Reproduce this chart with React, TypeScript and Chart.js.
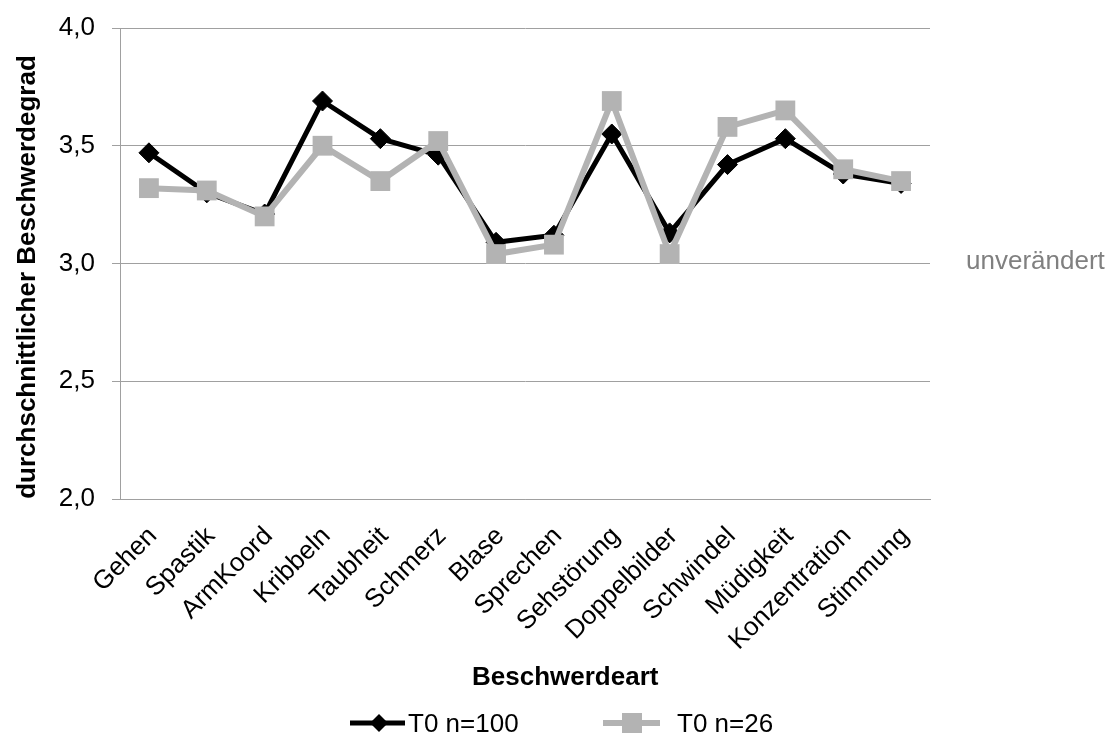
import React, { useEffect, useRef } from "react";
import { Chart, registerables } from "chart.js";

Chart.register(...registerables);

// Complaint categories on the x axis
const categories = [
  "Gehen",
  "Spastik",
  "ArmKoord",
  "Kribbeln",
  "Taubheit",
  "Schmerz",
  "Blase",
  "Sprechen",
  "Sehstörung",
  "Doppelbilder",
  "Schwindel",
  "Müdigkeit",
  "Konzentration",
  "Stimmung",
];

// Mean complaint severity per category
const seriesN100 = [3.47, 3.3, 3.21, 3.69, 3.53, 3.46, 3.09, 3.12, 3.55, 3.13, 3.42, 3.53, 3.38, 3.34];
const seriesN26 = [3.32, 3.31, 3.2, 3.5, 3.35, 3.52, 3.04, 3.08, 3.69, 3.04, 3.58, 3.65, 3.4, 3.35];

const legendLabels = ["T0 n=100", "T0 n=26"];
const yTicks = [2.0, 2.5, 3.0, 3.5, 4.0];
const yTitle = "durchschnittlicher Beschwerdegrad";
const xTitle = "Beschwerdeart";
const refLabel = "unverändert";
const refValue = 3.0;

const FONT = "'Liberation Sans', Arial, sans-serif";
const BLACK = "#000000";
const GREY = "#b3b3b3";
const GRID = "#a0a0a0";

const decorations = {
  id: "decorations",
  afterDraw(chart: any) {
    const ctx = chart.ctx as CanvasRenderingContext2D;
    const area = chart.chartArea;
    const yScale = chart.scales.y;
    ctx.save();

    // y axis title
    ctx.fillStyle = "#000";
    ctx.font = `bold 26px ${FONT}`;
    ctx.textAlign = "center";
    ctx.textBaseline = "alphabetic";
    ctx.save();
    ctx.translate(35, 277);
    ctx.rotate(-Math.PI / 2);
    ctx.fillText(yTitle, 0, 0);
    ctx.restore();

    // x axis title
    ctx.textAlign = "left";
    ctx.fillText(xTitle, 472, 685);

    // label beside the reference level
    ctx.fillStyle = "#808080";
    ctx.font = `26px ${FONT}`;
    ctx.textAlign = "left";
    ctx.fillText(refLabel, area.right + 36, yScale.getPixelForValue(refValue) + 5);

    // legend
    const ly = 723;
    ctx.lineCap = "butt";
    // black entry
    ctx.strokeStyle = BLACK;
    ctx.lineWidth = 5;
    ctx.beginPath();
    ctx.moveTo(350, ly);
    ctx.lineTo(405, ly);
    ctx.stroke();
    ctx.fillStyle = BLACK;
    ctx.beginPath();
    const d = 9;
    ctx.moveTo(379, ly - d);
    ctx.lineTo(379 + d, ly);
    ctx.lineTo(379, ly + d);
    ctx.lineTo(379 - d, ly);
    ctx.closePath();
    ctx.fill();
    ctx.fillStyle = "#000";
    ctx.font = `26px ${FONT}`;
    ctx.fillText(legendLabels[0], 408, 732);
    // grey entry
    ctx.strokeStyle = GREY;
    ctx.lineWidth = 6;
    ctx.beginPath();
    ctx.moveTo(603, ly);
    ctx.lineTo(660, ly);
    ctx.stroke();
    ctx.fillStyle = GREY;
    ctx.fillRect(632 - 10, ly - 10, 20, 20);
    ctx.fillStyle = "#000";
    ctx.fillText(legendLabels[1], 677, 732);

    ctx.restore();
  },
};

export default function App() {
  const canvasRef = useRef<HTMLCanvasElement | null>(null);

  useEffect(() => {
    if (!canvasRef.current) return;
    const chart = new Chart(canvasRef.current, {
      type: "line",
      data: {
        labels: categories,
        datasets: [
          {
            label: legendLabels[0],
            data: seriesN100,
            borderColor: BLACK,
            backgroundColor: BLACK,
            borderWidth: 5,
            pointStyle: "rectRot",
            pointRadius: 10,
            pointBorderWidth: 1,
            pointBackgroundColor: BLACK,
            pointBorderColor: BLACK,
            tension: 0,
            order: 1,
          },
          {
            label: legendLabels[1],
            data: seriesN26,
            borderColor: GREY,
            backgroundColor: GREY,
            borderWidth: 6,
            pointStyle: "rect",
            pointRadius: 14,
            pointBorderWidth: 0,
            pointBackgroundColor: GREY,
            pointBorderColor: GREY,
            tension: 0,
            order: 0,
          },
        ],
      },
      options: {
        responsive: false,
        animation: false,
        layout: { padding: { top: 28, right: 182, left: 0, bottom: 0 } },
        plugins: {
          legend: { display: false },
          tooltip: { enabled: false },
          title: { display: false },
        },
        scales: {
          x: {
            offset: true,
            grid: { display: false, drawTicks: false },
            border: { display: true, color: GRID, width: 1 },
            ticks: {
              autoSkip: false,
              maxRotation: 45,
              minRotation: 45,
              padding: 22,
              labelOffset: 4,
              color: "#000",
              font: { family: FONT, size: 26 },
            },
            afterFit(scale: any) {
              scale.height = 236;
            },
          },
          y: {
            min: 2,
            max: 4,
            afterBuildTicks(scale: any) {
              scale.ticks = yTicks.map((v) => ({ value: v }));
            },
            grid: { color: GRID, lineWidth: 1, drawTicks: true, tickLength: 8 },
            border: { display: true, color: GRID, width: 1 },
            ticks: {
              padding: 17,
              color: "#000",
              font: { family: FONT, size: 26 },
              callback: (v: any) => Number(v).toFixed(1).replace(".", ","),
            },
            afterFit(scale: any) {
              scale.width = 120;
              // the plot top is fixed by the layout padding alone
              scale.paddingTop = 0;
              scale.paddingBottom = 0;
            },
          },
        },
      },
      plugins: [decorations],
    });
    return () => chart.destroy();
  }, []);

  return (
    <div style={{ position: "absolute", left: 0, top: 0, width: 1112, height: 735, background: "#fff" }}>
      <canvas ref={canvasRef} width={1112} height={735} style={{ width: 1112, height: 735 }} />
    </div>
  );
}
